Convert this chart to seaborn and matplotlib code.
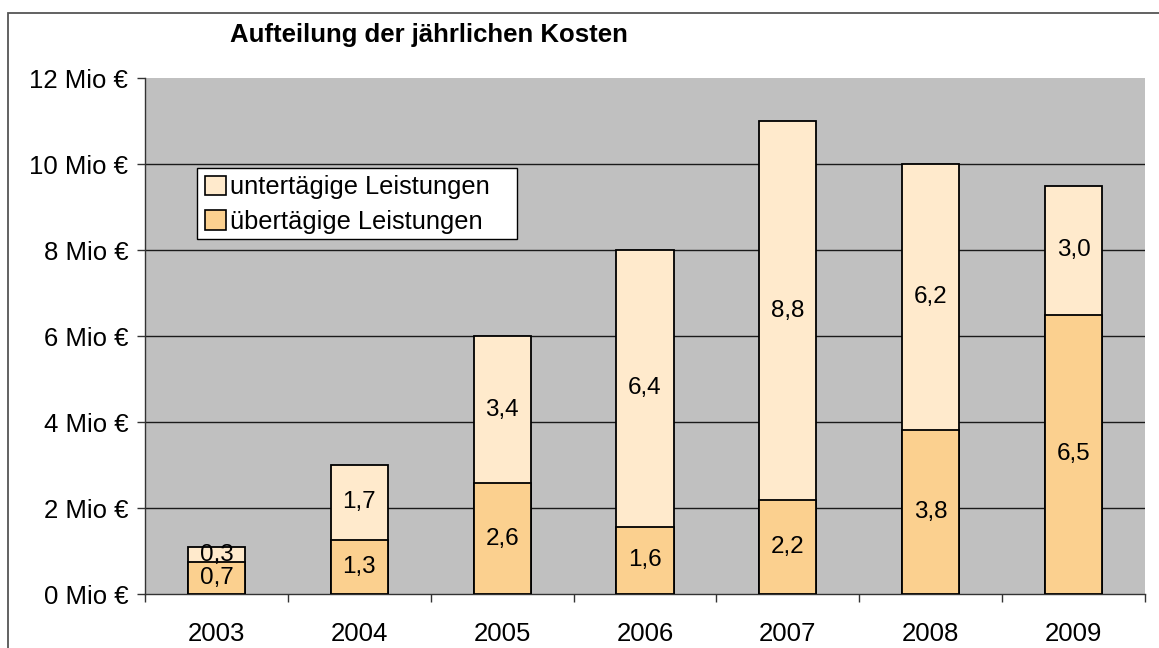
import matplotlib
matplotlib.use("Agg")
import matplotlib.pyplot as plt
import matplotlib.patches as mpatches
from matplotlib.ticker import FixedLocator
import seaborn as sns
import pandas as pd

years = ["2003", "2004", "2005", "2006", "2007", "2008", "2009"]
uebertaegig = [0.74, 1.26, 2.58, 1.56, 2.18, 3.82, 6.49]
untertaegig = [0.349, 1.74, 3.42, 6.44, 8.82, 6.18, 3.01]
y_ticks = [0, 2, 4, 6, 8, 10, 12]
title = "Aufteilung der jährlichen Kosten"
label_upper = "untertägige Leistungen"
label_lower = "übertägige Leistungen"

c_lower = "#FBD08F"
c_upper = "#FFEACC"
c_bg = "#C0C0C0"

df = pd.DataFrame({"year": years, "lower": uebertaegig, "upper": untertaegig})
df["total"] = df["lower"] + df["upper"]

sns.set_style("white")
plt.rcParams["font.family"] = ["Liberation Sans", "DejaVu Sans"]
plt.rcParams["text.color"] = "black"
plt.rcParams["xtick.color"] = "black"
plt.rcParams["ytick.color"] = "black"
plt.rcParams["axes.labelcolor"] = "black"

fig = plt.figure(figsize=(11.59, 6.48), dpi=100)
ax = fig.add_axes([145 / 1159, 54 / 648, 1000 / 1159, 516 / 648])
ax.set_facecolor(c_bg)

sns.barplot(data=df, x="year", y="total", order=years, color=c_upper, saturation=1,
            width=0.4, edgecolor="black", linewidth=1.3, errorbar=None, ax=ax, zorder=3)
sns.barplot(data=df, x="year", y="lower", order=years, color=c_lower, saturation=1,
            width=0.4, edgecolor="black", linewidth=1.3, errorbar=None, ax=ax, zorder=3)

fmt = lambda v: f"{v:.1f}".replace(".", ",")
for i, (lo, up) in enumerate(zip(uebertaegig, untertaegig)):
    ax.text(i, lo / 2, fmt(lo), ha="center", va="center", fontsize=17.5, color="black", zorder=5)
    ax.text(i, lo + up / 2, fmt(up), ha="center", va="center", fontsize=17.5, color="black", zorder=5)

ax.set_ylim(0, 12)
ax.set_xlim(-0.5, len(years) - 0.5)
ax.set_yticks(y_ticks)
ax.set_yticklabels([f"{t} Mio €" for t in y_ticks], fontsize=18.5, color="black")
ax.tick_params(axis="y", direction="out", length=6, width=1, color="#333333", pad=6, left=True,
               labelcolor="black")
ax.tick_params(axis="x", which="major", length=0, pad=20, labelsize=18.5, labelcolor="black")
ax.xaxis.set_minor_locator(FixedLocator([i - 0.5 for i in range(len(years) + 1)]))
ax.tick_params(axis="x", which="minor", direction="out", length=6, width=1, color="#333333", bottom=True)
ax.set_xlabel("")
ax.set_ylabel("")

for t in y_ticks[1:-1]:
    ax.axhline(t, color="#1a1a1a", linewidth=1, zorder=1)

for s in ["top", "right"]:
    ax.spines[s].set_visible(False)
for s in ["left", "bottom"]:
    ax.spines[s].set_color("#333333")
    ax.spines[s].set_linewidth(1)

# legend frame (wider than its content, as in the reference)
ax.add_patch(mpatches.Rectangle((52 / 1000, (594 - 239) / 516), 320 / 1000, 71 / 516,
                                transform=ax.transAxes, facecolor="white", edgecolor="black",
                                linewidth=1, zorder=6))
handles = [mpatches.Patch(facecolor=c_upper, edgecolor="black", linewidth=1.2, label=label_upper),
           mpatches.Patch(facecolor=c_lower, edgecolor="black", linewidth=1.2, label=label_lower)]
leg = ax.legend(handles=handles, loc="upper left", bbox_to_anchor=(54 / 1000, (594 - 169) / 516),
                borderaxespad=0, fontsize=18.3, frameon=False, handlelength=0.8, handleheight=0.8,
                handletextpad=0.15, borderpad=0.25, labelspacing=0.42)
for txt in leg.get_texts():
    txt.set_color("black")
leg.set_zorder(7)

fig.text(230 / 1159, 1 - 42 / 648, title, fontsize=18.5, fontweight="bold", ha="left",
         va="baseline", color="black")

fig.add_artist(mpatches.Rectangle((8 / 1159, -0.2), 1.2, 1.2 - 13 / 648, transform=fig.transFigure,
                                  fill=False, edgecolor="#555555", linewidth=1.3, clip_on=False))

fig.savefig("out.png", dpi=100)
